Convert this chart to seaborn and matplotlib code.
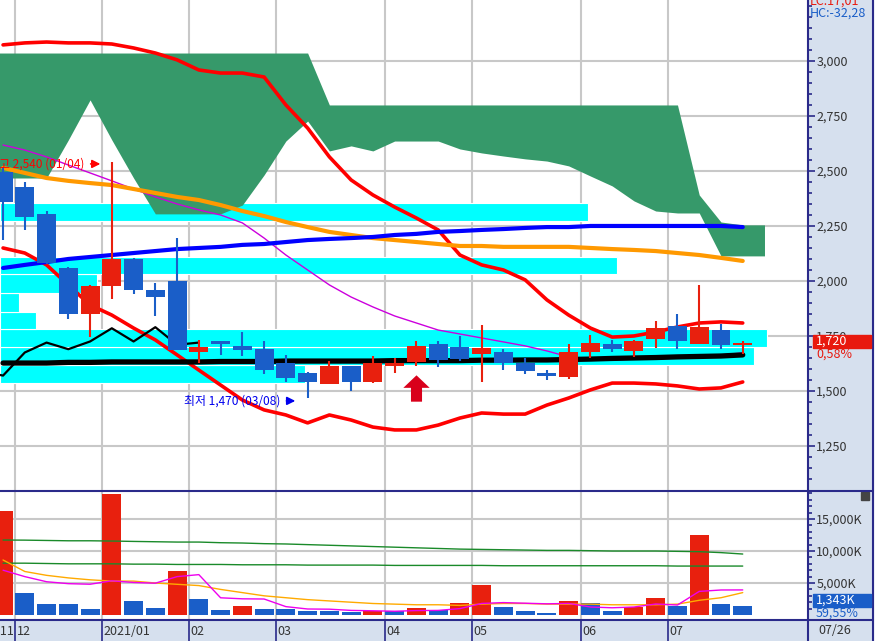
import numpy as np
import matplotlib
matplotlib.use('Agg')
import matplotlib.pyplot as plt
import seaborn as sns
from matplotlib.patches import Rectangle
from matplotlib.path import Path

# 주봉 데이터 (2020/11/30 ~ 2021/07/26)
weeks = ['2020/11/30', '2020/12/07', '2020/12/14', '2020/12/21', '2020/12/28',
         '2021/01/04', '2021/01/11', '2021/01/18', '2021/01/25', '2021/02/01',
         '2021/02/08', '2021/02/15', '2021/02/22', '2021/03/01', '2021/03/08',
         '2021/03/15', '2021/03/22', '2021/03/29', '2021/04/05', '2021/04/12',
         '2021/04/19', '2021/04/26', '2021/05/03', '2021/05/10', '2021/05/17',
         '2021/05/24', '2021/05/31', '2021/06/07', '2021/06/14', '2021/06/21',
         '2021/06/28', '2021/07/05', '2021/07/12', '2021/07/19', '2021/07/26']
opens = [2495, 2425, 2305, 2060, 1850, 1975, 2100, 1960, 2000, 1675, 1725, 1705,
         1690, 1625, 1580, 1530, 1615, 1540, 1615, 1630, 1715, 1700, 1670, 1675,
         1625, 1580, 1565, 1675, 1715, 1680, 1735, 1795, 1715, 1775, 1710]
highs = [2520, 2450, 2320, 2065, 1980, 2540, 2105, 1990, 2195, 1730, 1725, 1770,
         1725, 1665, 1585, 1635, 1615, 1660, 1650, 1725, 1725, 1750, 1800, 1690,
         1650, 1595, 1715, 1755, 1730, 1730, 1820, 1850, 1980, 1805, 1725]
lows = [2185, 2230, 2075, 1825, 1745, 1920, 1940, 1840, 1685, 1625, 1665, 1660,
        1575, 1540, 1470, 1530, 1500, 1535, 1580, 1615, 1610, 1635, 1540, 1595,
        1575, 1550, 1555, 1650, 1675, 1655, 1695, 1690, 1715, 1690, 1670]
closes = [2360, 2290, 2080, 1850, 1975, 2100, 1960, 1925, 1685, 1700, 1715, 1685,
          1595, 1560, 1540, 1615, 1540, 1625, 1625, 1705, 1640, 1645, 1695, 1625,
          1590, 1570, 1675, 1720, 1690, 1725, 1785, 1725, 1790, 1710, 1720]
volumes = [16250, 3440, 1720, 1720, 940, 18900, 2190, 1090, 6875, 2500, 780, 1400,
           940, 940, 625, 625, 470, 625, 625, 1090, 780, 1875, 4690, 1250, 625,
           310, 2190, 1875, 625, 1250, 2660, 1400, 12500, 1720, 1343]

# 이동평균 / 볼린저밴드
bb_upper = [3073, 3082, 3086, 3082, 3082, 3077, 3059, 3036, 3005, 2959, 2945, 2945,
            2927, 2800, 2695, 2564, 2459, 2391, 2336, 2286, 2232, 2118, 2073, 2050,
            2005, 1914, 1845, 1786, 1745, 1750, 1768, 1791, 1809, 1814, 1809]
bb_mid = [2618, 2595, 2564, 2527, 2491, 2455, 2418, 2382, 2350, 2323, 2300, 2264,
          2195, 2118, 2050, 1982, 1927, 1882, 1841, 1809, 1777, 1759, 1741, 1723,
          1705, 1682, 1655, 1645, 1641, 1645, 1645, 1650, 1655, 1664, 1673]
bb_lower = [2150, 2127, 2073, 1982, 1891, 1845, 1786, 1732, 1664, 1595, 1527, 1459,
            1414, 1391, 1355, 1391, 1368, 1336, 1323, 1323, 1345, 1377, 1400, 1395,
            1395, 1436, 1468, 1505, 1536, 1536, 1532, 1523, 1509, 1514, 1541]
ma_orange = [2514, 2491, 2468, 2455, 2445, 2436, 2418, 2400, 2382, 2368, 2345, 2318,
             2295, 2268, 2245, 2223, 2209, 2195, 2186, 2177, 2168, 2159, 2159, 2155,
             2155, 2155, 2155, 2150, 2145, 2141, 2136, 2127, 2118, 2105, 2091]
ma_blue = [2059, 2073, 2086, 2100, 2109, 2118, 2127, 2136, 2145, 2150, 2155, 2164,
           2168, 2177, 2186, 2191, 2195, 2200, 2209, 2214, 2223, 2227, 2232, 2236,
           2241, 2245, 2245, 2250, 2250, 2250, 2250, 2250, 2250, 2250, 2245]
ma_black = [1627, 1627, 1627, 1630, 1630, 1632, 1632, 1632, 1632, 1632, 1634, 1634,
            1634, 1636, 1636, 1636, 1636, 1636, 1638, 1638, 1638, 1638, 1640, 1640,
            1641, 1641, 1643, 1645, 1648, 1650, 1652, 1655, 1657, 1659, 1664]

# 일목균형표 선행스팬 (구름대), 첫 값은 화면 왼쪽 밖 한 주 전
span_b = [3036, 3036, 3036, 3036, 3036, 3036, 3036, 3036, 3036, 3036, 3036, 3036,
          3036, 3036, 3036, 3036, 2800, 2800, 2800, 2800, 2800, 2800, 2800, 2800,
          2800, 2800, 2800, 2800, 2800, 2800, 2800, 2800, 2800, 2391, 2268, 2255, 2255]
span_a = [2468, 2468, 2468, 2468, 2641, 2823, 2641, 2468, 2305, 2305, 2305, 2305,
          2345, 2482, 2636, 2727, 2591, 2614, 2591, 2636, 2636, 2636, 2600, 2582,
          2568, 2555, 2545, 2523, 2477, 2432, 2364, 2318, 2309, 2309, 2114, 2114, 2114]
chikou_shift = 25

# 매물대 (가격구간, 상대거래량 %)
profile_lo = [1536, 1618, 1700, 1780, 1860, 1945, 2030, 2273]
profile_hi = [1618, 1700, 1780, 1860, 1945, 2030, 2110, 2355]
profile_vol = [39.8, 98.3, 100, 4.7, 2.5, 12.6, 80.4, 76.7]

# 거래량 이동평균
vma_green1 = [11720, 11700, 11650, 11600, 11600, 11560, 11500, 11450, 11400, 11400,
              11300, 11250, 11150, 11100, 11000, 10900, 10800, 10700, 10600, 10500,
              10400, 10300, 10250, 10200, 10150, 10100, 10100, 10050, 10000, 10000,
              10000, 9950, 9900, 9750, 9530]
vma_green2 = [8100, 8100, 8050, 8000, 8000, 8000, 7950, 7950, 7900, 7900, 7900, 7850,
              7850, 7850, 7800, 7800, 7800, 7800, 7750, 7750, 7750, 7750, 7750, 7700,
              7700, 7700, 7700, 7700, 7700, 7700, 7700, 7650, 7650, 7650, 7650]
vma_orange = [8600, 6800, 6200, 5800, 5500, 5300, 5300, 5000, 4800, 4600, 4000, 3500,
              3000, 2700, 2400, 2200, 2000, 1800, 1700, 1600, 1600, 1500, 1700, 1800,
              1800, 1700, 1700, 1700, 1600, 1600, 1600, 1700, 2300, 2700, 3500]
vma_magenta = [7000, 6000, 5200, 4900, 4810, 5340, 5090, 4970, 6000, 6310, 2690, 2530,
               2500, 1310, 940, 910, 720, 660, 590, 690, 720, 1000, 1810, 1940, 1840,
               1750, 1810, 1250, 1130, 1250, 1720, 1560, 3690, 3910, 3920]

month_names = ['12', '2021/01', '02', '03', '04', '05', '06', '07']
signal_idx = [19]
vol_ratio_text = '59,55%'

W, H = 881, 641
C_UP, C_DN = '#e8200e', '#1a5ec8'
AXIS_C = '#2a2a8a'
PANEL_C = '#d6e0ee'
GRID_C = '#c8c8c8'

sns.set_theme(style='white')
plt.rcParams['font.family'] = ['Noto Sans CJK KR', 'DejaVu Sans']

fig = plt.figure(figsize=(W / 100, H / 100), dpi=100)
ax = fig.add_axes([0, 1 - 490 / H, 808 / W, 490 / H])
axv = fig.add_axes([0, 1 - 620 / H, 808 / W, 129 / H])
axd = fig.add_axes([0, 0, 808 / W, 21 / H])

fig.patches.append(Rectangle((808 / W, 0), 65 / W, 1, transform=fig.transFigure,
                             color=PANEL_C, zorder=-5))

n = len(closes)
idx = np.arange(n)
xlim = (-0.14, 37.0)
opens, closes, highs, lows = map(np.array, (opens, closes, highs, lows))
colors = np.where(closes >= opens, C_UP, C_DN)

# month boundaries from the week list
months = [w[5:7] for w in weeks]
month_starts = [i for i in range(1, n) if months[i] != months[i - 1]]
bounds = [i - 0.44 for i in month_starts]

# ---- 가격 패널 ----
ax.set_xlim(*xlim)
ax.set_ylim(1050, 3277)
for b in bounds:
    ax.axvline(b, color=GRID_C, lw=1.5, zorder=0)
for t in range(1250, 3001, 250):
    ax.axhline(t, color=GRID_C, lw=1.5, zorder=0)

# 매물대
ax.barh(profile_lo, np.array(profile_vol) / 100 * 767 / 808,
        height=np.array(profile_hi) - np.array(profile_lo), left=0, align='edge',
        color='#00ffff', edgecolor='white', lw=0.8, zorder=1,
        transform=ax.get_yaxis_transform())

# 구름대
cx = np.arange(len(span_a)) - 1
ax.fill_between(cx, span_a, span_b, color='#36996a', lw=0, zorder=2)

sns.lineplot(x=idx, y=bb_upper, ax=ax, color='#ff0000', lw=2.6, zorder=3)
sns.lineplot(x=idx, y=bb_lower, ax=ax, color='#ff0000', lw=2.6, zorder=3)
sns.lineplot(x=idx, y=bb_mid, ax=ax, color='#cc00dd', lw=1.0, zorder=3)
sns.lineplot(x=idx, y=ma_orange, ax=ax, color='#ff9900', lw=3, zorder=3)
sns.lineplot(x=idx, y=ma_blue, ax=ax, color='#0000ff', lw=3, zorder=3)
sns.lineplot(x=idx, y=ma_black, ax=ax, color='black', lw=3.8, zorder=3)
sns.lineplot(x=idx[chikou_shift - 1:] - chikou_shift, y=closes[chikou_shift - 1:],
             ax=ax, color='black', lw=1.6, zorder=3)

# 캔들
body = np.maximum(np.abs(closes - opens), 9)
ax.vlines(idx, lows, highs, colors=colors, lw=1.5, zorder=4)
ax.bar(idx, body, bottom=np.minimum(opens, closes), width=0.87, color=colors,
       lw=0, zorder=5)

# 신호 화살표
arrow = Path([(0, 1), (-1, 0.05), (-0.42, 0.05), (-0.42, -1), (0.42, -1),
              (0.42, 0.05), (1, 0.05), (0, 1)], closed=True)
ax.scatter(signal_idx, lows[signal_idx] - 100, marker=arrow, s=360,
           color='#d9001b', lw=0, zorder=6)

# 최고/최저 표시
hi_i = int(np.argmax(highs))
lo_i = int(np.argmin(lows))
ax.annotate('', xy=(hi_i - 0.4, highs[hi_i] - 8), xytext=(hi_i - 1.1, highs[hi_i] - 8),
            arrowprops=dict(arrowstyle='-|>', color='#ff0000', lw=1.2,
                            mutation_scale=12), zorder=6)
ax.text(hi_i - 1.25, highs[hi_i] - 8, f'최고 {highs[hi_i]:,} ({weeks[hi_i][5:]})',
        color='#ff0000', fontsize=8.6, ha='right', va='center', zorder=6)
ax.annotate('', xy=(lo_i - 0.44, lows[lo_i] - 15), xytext=(lo_i - 1.1, lows[lo_i] - 15),
            arrowprops=dict(arrowstyle='-|>', color='#0000ee', lw=1.2,
                            mutation_scale=12), zorder=6)
ax.text(lo_i - 1.25, lows[lo_i] - 15, f'최저 {lows[lo_i]:,} ({weeks[lo_i][5:]})',
        color='#0000ee', fontsize=8.6, ha='right', va='center', zorder=6)

ax.yaxis.tick_right()
ax.set_yticks(range(1250, 3001, 250))
ax.set_yticklabels([f'{t:,}' for t in range(1250, 3001, 250)])
ax.set_yticks(range(1100, 3300, 50), minor=True)
ax.set_xticks([])

# ---- 거래량 패널 ----
vols = np.array(volumes)
vcol = [C_UP] + [C_UP if vols[i] > vols[i - 1] else C_DN for i in range(1, n)]
axv.set_xlim(*xlim)
axv.set_ylim(-780, 19380)
for b in bounds:
    axv.axvline(b, color=GRID_C, lw=1.5, zorder=0)
for t in (5000, 10000, 15000):
    axv.axhline(t, color=GRID_C, lw=1.5, zorder=0)
axv.bar(idx, vols, width=0.87, color=vcol, lw=0, zorder=2)
sns.lineplot(x=idx, y=vma_green1, ax=axv, color='#1a8a2a', lw=1.0, zorder=3)
sns.lineplot(x=idx, y=vma_green2, ax=axv, color='#1a8a2a', lw=1.0, zorder=3)
sns.lineplot(x=idx, y=vma_orange, ax=axv, color='#ffaa00', lw=1.0, zorder=3)
sns.lineplot(x=idx, y=vma_magenta, ax=axv, color='#ee00ee', lw=1.0, zorder=3)
axv.yaxis.tick_right()
axv.set_yticks([5000, 10000, 15000])
axv.set_yticklabels(['5,000K', '10,000K', '15,000K'])
axv.set_yticks(range(1000, 19001, 1000), minor=True)
axv.set_xticks([])

for a in (ax, axv):
    a.set_facecolor('white')
    a.set_ylabel('')
    for s in ('top', 'left', 'bottom'):
        a.spines[s].set_visible(False)
    a.spines['right'].set_color(AXIS_C)
    a.spines['right'].set_linewidth(1.5)
    a.tick_params(axis='y', which='major', direction='out', length=5, width=1.2,
                  color=AXIS_C, labelcolor='#333333', labelsize=9, pad=1)
    a.tick_params(axis='y', which='minor', direction='out', length=3, width=1.2,
                  color=AXIS_C)

# ---- 날짜 패널 ----
axd.set_xlim(*xlim)
axd.set_ylim(0, 1)
axd.set_facecolor(PANEL_C)
axd.set_xticks([])
axd.set_yticks([])
for s in axd.spines.values():
    s.set_visible(False)
for b, lab in zip(bounds, month_names):
    axd.axvline(b, color=AXIS_C, lw=1.2)
    axd.text(b + 0.06, 0.45, lab, fontsize=9, color='#333333', va='center')
axd.text(bounds[0] - 0.03, 0.45, '2020/11', fontsize=9, color='#333333',
         va='center', ha='right')
fig.text(818 / W, 1 - 631 / H, weeks[-1][5:], fontsize=9, color='#333333', va='center')

# 테두리
fig.add_artist(plt.Line2D([0, 873 / W], [1 - 490.5 / H] * 2, color=AXIS_C, lw=1.5))
fig.add_artist(plt.Line2D([0, 873 / W], [1 - 620 / H] * 2, color=AXIS_C, lw=1.5))
fig.add_artist(plt.Line2D([808 / W] * 2, [0, 21 / H], color=AXIS_C, lw=1.5))
fig.add_artist(plt.Line2D([873 / W] * 2, [0, 1], color=AXIS_C, lw=1.5))
fig.patches.append(Rectangle((861 / W, 1 - 500 / H), 8 / W, 8 / H,
                             transform=fig.transFigure, color='#444444'))

# 현재가 / 거래량 박스
last = closes[-1]
chg = (closes[-1] - opens[-1]) / opens[-1] * 100
fig.patches.append(Rectangle((813 / W, 1 - 348 / H), 58 / W, 13 / H,
                             transform=fig.transFigure, color='#e8190e', zorder=5))
fig.text(816 / W, 1 - 341 / H, f'{last:,}', color='white', fontsize=9, va='center',
         zorder=6)
fig.text(816 / W, 1 - 354 / H, f'{chg:.2f}%'.replace('.', ','), color='#e8190e',
         fontsize=9, va='center')
fig.patches.append(Rectangle((813 / W, 1 - 607 / H), 58 / W, 13 / H,
                             transform=fig.transFigure, color='#1a5ec8', zorder=5))
fig.text(816 / W, 1 - 600 / H, f'{volumes[-1]:,}K', color='white', fontsize=9,
         va='center', zorder=6)
fig.text(816 / W, 1 - 613 / H, vol_ratio_text, color='#1a5ec8', fontsize=9,
         va='center')
fig.text(810 / W, 1 - 1 / H, 'LC:17,01', color='#e8190e', fontsize=9, va='center')
fig.text(810 / W, 1 - 13 / H, 'HC:-32,28', color='#1a5ec8', fontsize=9, va='center')

fig.savefig('out.png', dpi=100)
